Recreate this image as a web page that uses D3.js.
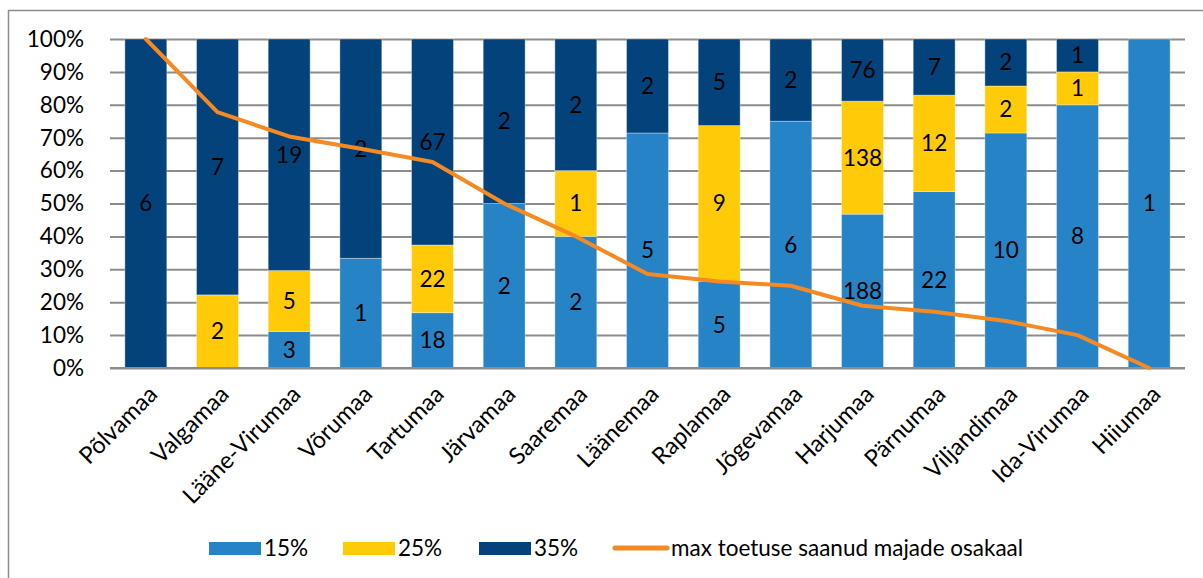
<!DOCTYPE html>
<html>
<head>
<meta charset="utf-8">
<script src="https://cdn.jsdelivr.net/npm/d3@7"></script>
<style>
  body { margin: 0; background: #fff; }
  text { font-family: Lato, 'Open Sans', sans-serif; fill: #000; }
</style>
</head>
<body>
<div id="graf"></div>
<script>
// Maakonnad ja majade arv toetuse määra järgi
const maakonnad = ['Põlvamaa', 'Valgamaa', 'Lääne-Virumaa', 'Võrumaa', 'Tartumaa', 'Järvamaa', 'Saaremaa',
  'Läänemaa', 'Raplamaa', 'Jõgevamaa', 'Harjumaa', 'Pärnumaa', 'Viljandimaa', 'Ida-Virumaa', 'Hiiumaa']
const toetus15 = [0, 0, 3, 1, 18, 2, 2, 5, 5, 6, 188, 22, 10, 8, 1]
const toetus25 = [0, 2, 5, 0, 22, 0, 1, 0, 9, 0, 138, 12, 2, 1, 0]
const toetus35 = [6, 7, 19, 2, 67, 2, 2, 2, 5, 2, 76, 7, 2, 1, 0]
const seeriad = ['15%', '25%', '35%']
const yTicks = [0, 0.1, 0.2, 0.3, 0.4, 0.5, 0.6, 0.7, 0.8, 0.9, 1]
const joonNimi = 'max toetuse saanud majade osakaal'

const varvid = { '15%': '#2683c6', '25%': '#ffca08', '35%': '#03427a' }
const oranz = '#f58a22'

const W = 1203, H = 578
const margins = { top: 39, left: 110, right: 18, bottom: 210 }
const ancho = W - margins.left - margins.right
const alto = H - margins.top - margins.bottom
const fs = '22.5px'

const svg = d3.select('#graf').append('svg')
  .attr('width', W).attr('height', H)

// raam
svg.append('rect')
  .attr('x', 8.5).attr('y', 10.5)
  .attr('width', 1400).attr('height', 800)
  .attr('fill', 'none').attr('stroke', '#8c8c8c').attr('stroke-width', 1.5)

const g = svg.append('g').attr('transform', `translate(${margins.left},${margins.top})`)

const x = d3.scaleBand().domain(maakonnad).range([0, ancho]).paddingInner(0.415).paddingOuter(0.2075)
const y = d3.scaleLinear().domain([0, 1]).range([alto, 0])

// andmed tabelina
const tabel = maakonnad.map((m, i) => {
  const kokku = toetus15[i] + toetus25[i] + toetus35[i]
  return { maakond: m, '15%': toetus15[i], '25%': toetus25[i], '35%': toetus35[i], kokku: kokku }
})
const stack = d3.stack().keys(seeriad)
  .value((d, k) => d[k] / d.kokku)(tabel)

// ruudustik
const yAxisG = d3.axisLeft(y).tickValues(yTicks).tickSize(-ancho).tickFormat('')
g.append('g').call(yAxisG)
  .call(s => s.select('.domain').remove())
  .selectAll('line').attr('stroke', '#8c8c8c').attr('stroke-width', 2)

// y-telje sildid
g.append('g').selectAll('text').data(yTicks).join('text')
  .attr('x', -26).attr('y', d => y(d)).attr('dy', '0.35em')
  .attr('text-anchor', 'end').attr('font-size', fs)
  .text(d => d3.format('.0%')(d))

// tulbad
const kihid = g.selectAll('g.kiht').data(stack).join('g').attr('class', 'kiht')
  .attr('fill', d => varvid[d.key])
kihid.selectAll('rect').data(d => d.map(v => ({ v: v, key: d.key }))).join('rect')
  .attr('x', d => x(d.v.data.maakond))
  .attr('width', x.bandwidth())
  .attr('y', d => y(d.v[1]))
  .attr('height', d => y(d.v[0]) - y(d.v[1]))
  .attr('stroke', 'rgba(255,255,255,0.35)').attr('stroke-width', 1)

// väärtuste sildid
kihid.selectAll('text').data(d => d.map(v => ({ v: v, key: d.key })).filter(e => e.v.data[e.key] > 0)).join('text')
  .attr('x', d => x(d.v.data.maakond) + x.bandwidth() / 2)
  .attr('y', d => y((d.v[0] + d.v[1]) / 2))
  .attr('dy', '0.35em')
  .attr('text-anchor', 'middle').attr('font-size', fs)
  .text(d => d.v.data[d.key])

// x-telg
g.append('line').attr('x1', 0).attr('x2', ancho).attr('y1', alto).attr('y2', alto)
  .attr('stroke', '#8c8c8c').attr('stroke-width', 2)

g.append('g').selectAll('text').data(maakonnad).join('text')
  .attr('transform', d => `translate(${x(d) + x.bandwidth() / 2 + 7},${alto + 22}) rotate(-45)`)
  .attr('text-anchor', 'end').attr('dy', '0.35em').attr('font-size', '23.5px')
  .text(d => d)

// joon: 35% osakaal
const joon = d3.line()
  .x(d => x(d.maakond) + x.bandwidth() / 2)
  .y(d => y(d['35%'] / d.kokku))
g.append('path').datum(tabel)
  .attr('d', joon).attr('fill', 'none')
  .attr('stroke', oranz).attr('stroke-width', 4).attr('stroke-linejoin', 'round').attr('stroke-linecap', 'round')

// legend
const legY = 548
const legX = [209, 343, 479]
seeriad.forEach((s, i) => {
  svg.append('rect').attr('x', legX[i]).attr('y', legY - 6).attr('width', 52).attr('height', 13)
    .attr('fill', varvid[s])
  svg.append('text').attr('x', legX[i] + 55).attr('y', legY).attr('dy', '0.35em')
    .attr('font-size', fs).text(s)
})
svg.append('line').attr('x1', 615).attr('x2', 667).attr('y1', legY).attr('y2', legY)
  .attr('stroke', oranz).attr('stroke-width', 5).attr('stroke-linecap', 'round')
svg.append('text').attr('x', 671).attr('y', legY).attr('dy', '0.35em')
  .attr('font-size', fs).text(joonNimi)
</script>
</body>
</html>
